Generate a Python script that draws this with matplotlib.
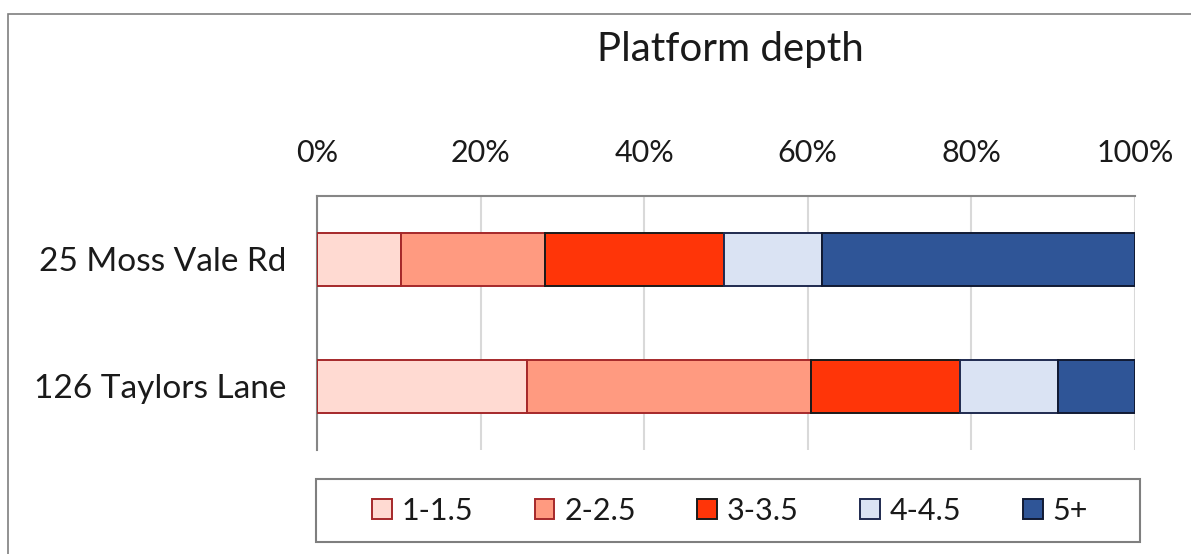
import matplotlib
matplotlib.use("Agg")
import matplotlib.pyplot as plt
from matplotlib.patches import Rectangle
from matplotlib.ticker import PercentFormatter

categories = ["25 Moss Vale Rd", "126 Taylors Lane"]
series_names = ["1-1.5", "2-2.5", "3-3.5", "4-4.5", "5+"]
s_1_15 = [10.3, 25.7]
s_2_25 = [17.6, 34.7]
s_3_35 = [21.9, 18.2]
s_4_45 = [11.9, 12.0]
s_5p = [38.3, 9.4]
series_values = [s_1_15, s_2_25, s_3_35, s_4_45, s_5p]
x_ticks = [0, 20, 40, 60, 80, 100]

face_colors = ["#FFDAD2", "#FF9A80", "#FF3508", "#DAE3F3", "#2F5597"]
edge_colors = ["#A5282A", "#A5282A", "#1A1A1A", "#1F2A4F", "#111A33"]

plt.rcParams['font.family'] = ['Lato', 'DejaVu Sans']

W, H = 1191, 554
fig = plt.figure(figsize=(W / 100, H / 100), dpi=100)

# outer chart frame
fig.patches.append(Rectangle((8 / W, -0.05), 1.1, 1 - 14 / H + 0.05, transform=fig.transFigure,
                             fill=False, edgecolor="#7F7F7F", linewidth=1.2))

ax = fig.add_axes([317 / W, 1 - 450 / H, (1135 - 317) / W, (450 - 196) / H])

ypos = list(range(len(categories)))
left = [0.0] * len(categories)
handles = []
for name, vals, fc, ec in zip(series_names, series_values, face_colors, edge_colors):
    b = ax.barh(ypos, vals, left=left, height=0.41, color=fc, edgecolor=ec,
                linewidth=1.4, label=name, zorder=3)
    handles.append(b)
    left = [l + v for l, v in zip(left, vals)]

ax.set_xlim(0, 100)
ax.set_ylim(1.5, -0.5)
ax.set_yticks(ypos)
ax.set_yticklabels(categories, fontsize=24, color="#1A1A1A")
ax.set_xticks(x_ticks)
ax.xaxis.set_major_formatter(PercentFormatter(decimals=0))
ax.xaxis.tick_top()
ax.tick_params(axis="x", length=0, pad=21, labelsize=22, labelcolor="#1A1A1A")
ax.tick_params(axis="y", length=0, pad=22)
ax.grid(axis="x", color="#D9D9D9", linewidth=1.5, zorder=0)
ax.set_axisbelow(True)
for s in ["bottom", "right"]:
    ax.spines[s].set_visible(False)
ax.spines["left"].set_color("#868686")
ax.spines["left"].set_linewidth(1.5)
ax.spines["top"].set_color("#868686")
ax.spines["top"].set_linewidth(1.5)

fig.text(730 / W, 1 - 49 / H, "Platform depth", ha="center", va="center",
         fontsize=29, color="#1A1A1A")

# legend frame
fig.patches.append(Rectangle((316 / W, 1 - 542 / H), (1140 - 316) / W, (542 - 479) / H,
                             transform=fig.transFigure, fill=False,
                             edgecolor="#7F7F7F", linewidth=1.5))
fig.legend(handles=handles, labels=series_names, loc="center",
           bbox_to_anchor=(730 / W, 1 - 511 / H), ncol=5, frameon=False,
           fontsize=22, handlelength=0.65, handleheight=0.65, handletextpad=0.33,
           columnspacing=2.0, labelcolor="#1A1A1A")

fig.savefig("out.png", dpi=100)
